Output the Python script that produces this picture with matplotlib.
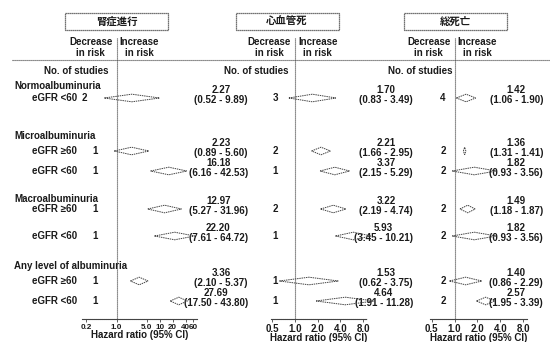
import matplotlib
matplotlib.use('Agg')
import matplotlib.pyplot as plt
from matplotlib.patches import Polygon, Rectangle
from matplotlib.ticker import NullLocator, FixedLocator, FixedFormatter

plt.rcParams['font.family'] = ['Liberation Sans Narrow', 'Liberation Sans', 'Noto Sans CJK JP', 'DejaVu Sans']

# ---------------- data ----------------
titles = ['腎症進行', '心血管死', '総死亡']
groups = ['Normoalbuminuria', 'Microalbuminuria', 'Macroalbuminuria', 'Any level of albuminuria']
row_labels = ['eGFR <60', 'eGFR ≥60', 'eGFR <60', 'eGFR ≥60', 'eGFR <60', 'eGFR ≥60', 'eGFR <60']

renal_n = [2, 1, 1, 1, 1, 1, 1]
renal_hr = [2.27, 2.23, 16.18, 12.97, 22.20, 3.36, 27.69]
renal_lo = [0.52, 0.89, 6.16, 5.27, 7.61, 2.10, 17.50]
renal_hi = [9.89, 5.60, 42.53, 31.96, 64.72, 5.37, 43.80]

cv_n = [3, 2, 1, 2, 1, 1, 1]
cv_hr = [1.70, 2.21, 3.37, 3.22, 5.93, 1.53, 4.64]
cv_lo = [0.83, 1.66, 2.15, 2.19, 3.45, 0.62, 1.91]
cv_hi = [3.49, 2.95, 5.29, 4.74, 10.21, 3.75, 11.28]

all_n = [4, 2, 2, 2, 2, 2, 2]
all_hr = [1.42, 1.36, 1.82, 1.49, 1.82, 1.40, 2.57]
all_lo = [1.06, 1.31, 0.93, 1.18, 0.93, 0.86, 1.95]
all_hi = [1.90, 1.41, 3.56, 1.87, 3.56, 2.29, 3.39]

renal_ticks = [0.2, 1.0, 5.0, 10, 20, 40, 60]
renal_ticklabels = ['0.2', '1.0', '5.0', '10', '20', '40', '60']
hr_ticks = [0.5, 1.0, 2.0, 4.0, 8.0]
hr_ticklabels = ['0.5', '1.0', '2.0', '4.0', '8.0']

# ---------------- layout (pixels) ----------------
W, H = 550, 342
TOP, BOT = 38, 319
rows_y = [98, 151, 171, 209, 236, 281, 301]
group_y = [86, 136, 199, 266]
INK = '#1a1a1a'
LINE = '#444444'
FS = 7

panels = [
    dict(title=titles[0], n=renal_n, hr=renal_hr, lo=renal_lo, hi=renal_hi,
         ticks=renal_ticks, labels=renal_ticklabels, tick_fs=5.8,
         ref=116.5, ppd=43.2, left=82, right=197, box=116.5,
         count_x=[84, 95, 95, 95, 95, 95, 95], nos_right=108, val_right=248),
    dict(title=titles[1], n=cv_n, hr=cv_hr, lo=cv_lo, hi=cv_hi,
         ticks=hr_ticks, labels=hr_ticklabels, tick_fs=FS,
         ref=295, ppd=75.4, left=271, right=367, box=287,
         count_x=[275] * 7, nos_right=288, val_right=413),
    dict(title=titles[2], n=all_n, hr=all_hr, lo=all_lo, hi=all_hi,
         ticks=hr_ticks, labels=hr_ticklabels, tick_fs=FS,
         ref=454.5, ppd=76, left=430, right=527, box=455.5,
         count_x=[443] * 7, nos_right=453, val_right=543),
]

fig = plt.figure(figsize=(5.5, 3.42), dpi=100)
fig.patch.set_facecolor('white')
bg = fig.add_axes([0, 0, 1, 1])
bg.set_xlim(0, W)
bg.set_ylim(H, 0)
bg.axis('off')

# left labels
for g, y in zip(groups, group_y):
    bg.text(14, y, g, fontsize=FS, fontweight='bold', color=INK, ha='left', va='center')
for lab, y in zip(row_labels, rows_y):
    bg.text(32, y, lab, fontsize=FS, fontweight='bold', color=INK, ha='left', va='center')

# horizontal divider
bg.plot([12, 550], [60, 60], ls=(0, (1, 0.8)), color=LINE, lw=0.8)

for p in panels:
    # title box
    bg.add_patch(Rectangle((p['box'] - 51.5, 13), 103, 17, fill=False,
                           ec=LINE, lw=0.9, ls=(0, (1, 0.6))))
    bg.text(p['box'], 21.5, p['title'], fontsize=7.5, fontweight='bold', color=INK,
            ha='center', va='center', family=['Noto Sans CJK JP', 'DejaVu Sans'])
    bg.text(p['ref'] - 4, 47.5, 'Decrease\nin risk', fontsize=FS, fontweight='bold',
            color=INK, ha='right', va='center', ma='center', linespacing=1.15)
    bg.text(p['ref'] + 3, 47.5, 'Increase\nin risk', fontsize=FS, fontweight='bold',
            color=INK, ha='left', va='center', ma='center', linespacing=1.15)
    bg.text(p['nos_right'], 71, 'No. of studies', fontsize=FS, fontweight='bold',
            color=INK, ha='right', va='center')

    # forest axes
    ax = fig.add_axes([p['left'] / W, 1 - BOT / H, (p['right'] - p['left']) / W, (BOT - TOP) / H])
    ax.set_xscale('log')
    ax.set_xlim(10 ** ((p['left'] - p['ref']) / p['ppd']), 10 ** ((p['right'] - p['ref']) / p['ppd']))
    ax.set_ylim(BOT, TOP)
    ax.patch.set_alpha(0)
    for s in ['top', 'left', 'right']:
        ax.spines[s].set_visible(False)
    ax.spines['bottom'].set_linestyle((0, (1, 0.8)))
    ax.spines['bottom'].set_color(LINE)
    ax.spines['bottom'].set_linewidth(0.8)
    ax.set_yticks([])
    ax.xaxis.set_minor_locator(NullLocator())
    ax.xaxis.set_major_locator(FixedLocator(p['ticks']))
    ax.xaxis.set_major_formatter(FixedFormatter(p['labels']))
    ax.tick_params(axis='x', length=2, width=0.6, color=LINE, pad=1.5,
                   labelsize=p['tick_fs'], labelcolor=INK)
    for t in ax.get_xticklabels():
        t.set_fontweight('bold')
    ax.set_xlabel('Hazard ratio (95% CI)', fontsize=FS, fontweight='bold', color=INK, labelpad=-0.5)
    ax.axvline(1.0, ls=(0, (1, 0.8)), color=LINE, lw=0.8)

    for n, hr, lo, hi, y, cx in zip(p['n'], p['hr'], p['lo'], p['hi'], rows_y, p['count_x']):
        ax.add_patch(Polygon([(lo, y), (hr, y - 3.8), (hi, y), (hr, y + 3.8)], closed=True,
                             fill=False, ec=LINE, lw=0.7, ls=(0, (1.5, 0.8)), clip_on=False))
        bg.text(cx, y, str(n), fontsize=FS, fontweight='bold', color=INK,
                ha='center', va='center')
        bg.text(p['val_right'], y - 3, f'{hr:.2f}\n({lo:.2f} - {hi:.2f})', fontsize=FS,
                fontweight='bold', color=INK, ha='right', va='center', ma='center',
                linespacing=0.95)

fig.savefig('out.png', dpi=100, facecolor='white')
